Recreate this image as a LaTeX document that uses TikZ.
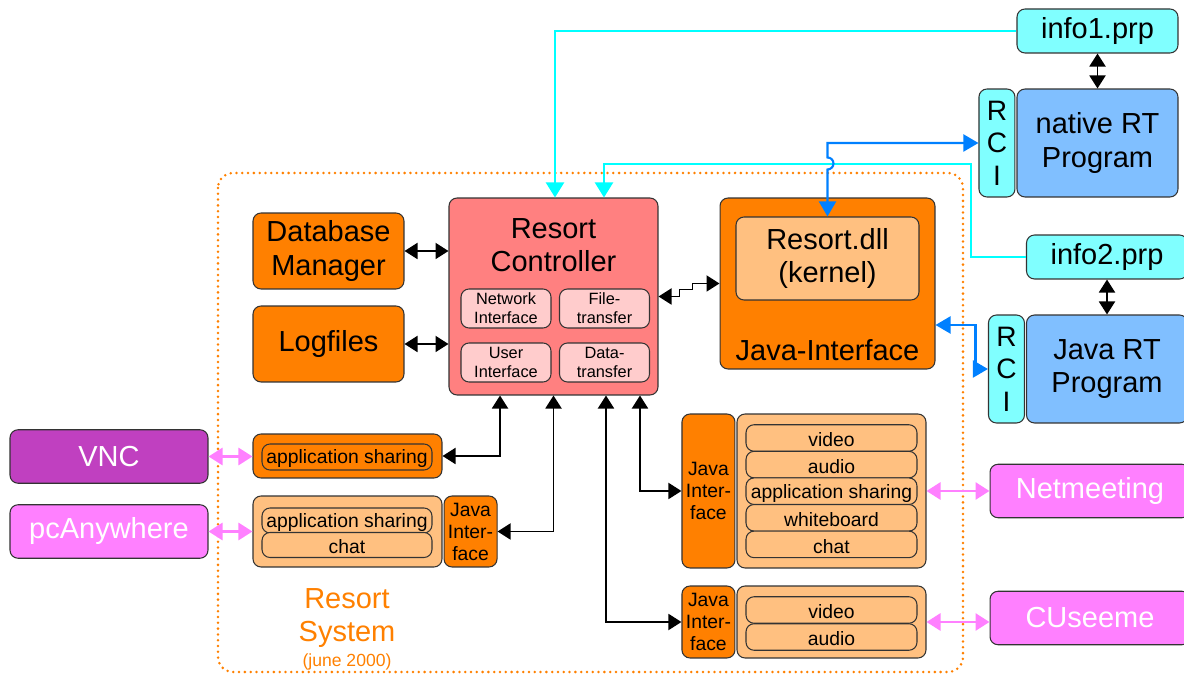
\documentclass[tikz,border=0pt]{standalone}
\usepackage{fontspec}
\setmainfont{Liberation Sans}
\usetikzlibrary{arrows.meta, positioning}

\definecolor{ctrlred}{HTML}{FF8080}
\definecolor{ifpink}{HTML}{FFCCCC}
\definecolor{rsorange}{HTML}{FF8000}
\definecolor{lightorange}{HTML}{FFC080}
\definecolor{prpcyan}{HTML}{80FFFF}
\definecolor{rtblue}{HTML}{80BFFF}
\definecolor{vncpurple}{HTML}{C040C0}
\definecolor{toolpink}{HTML}{FF80FF}
\definecolor{cyanline}{HTML}{00FFFF}
\definecolor{blueline}{HTML}{0080FF}

\newcommand\fsbig{\fontsize{16.5}{19}\selectfont}
\newcommand\fsmid{\fontsize{11}{12.5}\selectfont}
\newcommand\fssmall{\fontsize{9.3}{10.8}\selectfont}
\newcommand\fsdate{\fontsize{10}{11.5}\selectfont}

\begin{document}
\begin{tikzpicture}[
    x=0.02cm, y=-0.02cm,
    box/.style={rectangle, draw=black!80, line width=0.6pt, rounded corners=0.16cm, inner sep=0pt, align=center},
    cyanbox/.style={box, fill=prpcyan, font=\fsbig, minimum width=3.22cm, minimum height=0.88cm},
    bluebox/.style={box, fill=rtblue, font=\fsbig, minimum width=3.22cm, minimum height=2.16cm},
    rcibox/.style={box, fill=prpcyan, font=\fontsize{16}{18.5}\selectfont, minimum width=0.72cm, minimum height=2.16cm},
    ctrlbox/.style={box, fill=ctrlred, minimum width=4.18cm, minimum height=3.94cm},
    ifbox/.style={box, fill=ifpink, font=\fssmall, minimum width=1.8cm, minimum height=0.78cm},
    orangebox/.style={box, fill=rsorange, font=\fsbig, minimum width=3.02cm, minimum height=1.52cm},
    toolbox/.style={box, fill=lightorange, minimum width=3.78cm},
    rowbox/.style={box, fill=lightorange, font=\fsmid, minimum width=3.42cm, minimum height=0.53cm, text height=1.9ex},
    jibox/.style={box, fill=rsorange, font=\fsmid, minimum width=1.06cm},
    pinkbox/.style={box, fill=toolpink, text=white, font=\fsbig, minimum width=3.96cm, minimum height=1.07cm},
    sysline/.style={rsorange, line width=1.6pt, dash pattern=on 0pt off 3.3pt, line cap=round, rounded corners=0.3cm},
    arrow/.style={<->, >={Triangle[length=0.26cm, width=0.32cm]}, line width=1.1pt, black},
    cyanarrow/.style={->, >={Triangle[length=0.3cm, width=0.36cm]}, line width=1.2pt, cyanline},
    bluearrow/.style={<->, >={Triangle[length=0.3cm, width=0.34cm]}, line width=1.2pt, blueline},
    pinkarrow/.style={<->, >={Triangle[length=0.28cm, width=0.34cm]}, line width=1.6pt, toolpink}
]
\useasboundingbox (0,0) rectangle (1184,675);

% Resort system frame
\draw[sysline] (218,173) rectangle (963,672);
\node[font=\fsbig, text=rsorange, align=center] (syslabel) at (347,618) {Resort\\System};
\node[font=\fsdate, text=rsorange] (sysdate) at (347,662) {(june 2000)};

% Top right: property files and RT programs
\node[cyanbox] (info1) at (1097.5,31) {info1.prp};
\node[bluebox] (native) at (1097.5,143) {native RT\\Program};
\node[rcibox, left=0.02cm of native] (rci1) {R\\C\\I};
\node[cyanbox] (info2) at (1107,257) {info2.prp};
\node[bluebox] (javart) at (1107,369) {Java RT\\Program};
\node[rcibox, left=0.02cm of javart] (rci2) {R\\C\\I};

% Controller
\node[ctrlbox] (ctrl) at (553.5,296.5) {};
\node[font=\fsbig, align=center] (ctrltitle) at (553.5,245) {Resort\\Controller};
\node[ifbox] (netif) at (506,308.5) {Network\\Interface};
\node[ifbox] (fileif) at (604.5,308.5) {File-\\transfer};
\node[ifbox] (userif) at (506,362.5) {User\\Interface};
\node[ifbox] (dataif) at (604.5,362.5) {Data-\\transfer};

% Database and logs
\node[orangebox] (db) at (328.5,251) {Database\\Manager};
\node[orangebox] (logs) at (328.5,344) {Logfiles};

% Java interface with kernel
\node[box, fill=rsorange, minimum width=4.3cm, minimum height=3.42cm] (jint) at (827.5,283.5) {};
\node[box, fill=lightorange, font=\fsbig, minimum width=3.66cm, minimum height=1.66cm] (dll) at (827.5,258.5) {Resort.dll\\(kernel)};
\node[font=\fsbig] (jintlabel) at (827.5,350) {Java-Interface};

% Left tools
\node[pinkbox, fill=vncpurple] (vnc) at (109,456.5) {VNC};
\node[pinkbox] (pcany) at (109,531.5) {pcAnywhere};
\node[toolbox, fill=rsorange, minimum height=0.88cm] (vncbox) at (347.5,456) {};
\node[rowbox, fill=rsorange, minimum width=3.4cm, minimum height=0.52cm] (vncapp) at (347,457) {application sharing};
\node[toolbox, minimum height=1.42cm] (pcbox) at (347.5,531.5) {};
\node[rowbox, minimum width=3.4cm, minimum height=0.5cm] (pcapp) at (347,520.5) {application sharing};
\node[rowbox, minimum width=3.4cm, minimum height=0.5cm] (pcchat) at (347,545) {chat};
\node[jibox, right=0.02cm of pcbox, minimum height=1.42cm] (pcji) {Java\\Inter-\\face};

% Right tools
\node[toolbox, minimum height=3.08cm] (nmbox) at (831.5,491) {};
\node[jibox, left=0.02cm of nmbox, minimum height=3.08cm] (nmji) {Java\\Inter-\\face};
\node[rowbox] (nmvideo) at (831.5,438) {video};
\node[rowbox] (nmaudio) at (831.5,464.6) {audio};
\node[rowbox] (nmapp) at (831.5,491.2) {application sharing};
\node[rowbox] (nmwb) at (831.5,517.8) {whiteboard};
\node[rowbox] (nmchat) at (831.5,544.4) {chat};

\node[toolbox, minimum height=1.44cm] (cubox) at (831.5,622) {};
\node[jibox, left=0.02cm of cubox, minimum height=1.44cm] (cuji) {Java\\Inter-\\face};
\node[rowbox] (cuvideo) at (831.5,610) {video};
\node[rowbox] (cuaudio) at (831.5,637) {audio};

\node[pinkbox, minimum width=4cm] (netm) at (1090,491) {Netmeeting};
\node[pinkbox, minimum width=4cm] (cusee) at (1090,618) {CUseeme};

% Arrows
\draw[cyanarrow] (info1.west) -| ([xshift=0.03cm]ctrl.north);
\draw[cyanarrow] (info2.west) -| (971,164) -| ([xshift=1.01cm]ctrl.north);
\draw[bluearrow] (dll.north) -- ++(0,-47) arc[start angle=-90, end angle=90, radius=0.12cm] |- (rci1.west);
\draw[bluearrow] ([yshift=-0.83cm]jint.east) -- ++(40,0) |- (rci2.west);
\draw[arrow] (info1.south) -- (native.north);
\draw[arrow] (info2.south) -- (javart.north);
\draw[arrow] (db.east) -- (db.east -| ctrl.west);
\draw[arrow] (logs.east) -- (logs.east -| ctrl.west);
\draw[arrow] (ctrl.east) -- ++(21,0) -- ++(0,-7) -- ++(13,0) |- (jint.west);
\draw[arrow] ([xshift=-1.07cm]ctrl.south) |- (vncbox.east);
\draw[arrow] (ctrl.south) |- (pcji.east);
\draw[arrow] ([xshift=1.05cm]ctrl.south) |- (cuji.west);
\draw[arrow] ([xshift=1.73cm]ctrl.south) |- (nmji.west);
\draw[pinkarrow] (vnc.east) -- (vnc.east -| vncbox.west);
\draw[pinkarrow] (pcany.east) -- (pcany.east -| pcbox.west);
\draw[pinkarrow] (nmbox.east) -- (nmbox.east -| netm.west);
\draw[pinkarrow] (cubox.east) -- (cubox.east -| cusee.west);

\end{tikzpicture}
\end{document}
